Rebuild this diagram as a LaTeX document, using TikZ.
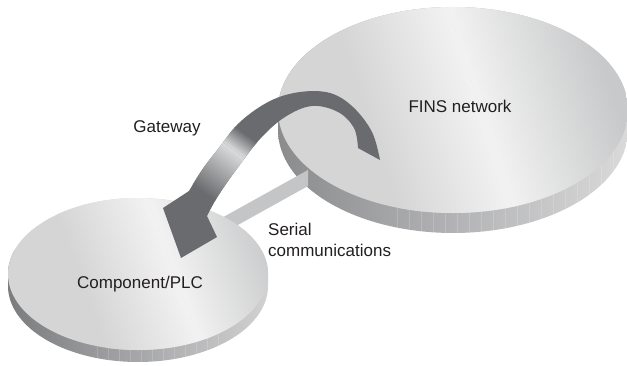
\documentclass[tikz,border=0pt]{standalone}
\usepackage{fontspec}
\setmainfont{Liberation Sans}
\definecolor{txt}{HTML}{231F20}
\definecolor{arrdark}{HTML}{6A6B6E}
\definecolor{arrlight}{HTML}{DADBDC}
\definecolor{topL}{HTML}{D5D5D6}
\definecolor{topM}{HTML}{F2F2F2}
\definecolor{topR}{HTML}{C8C9CA}
\definecolor{bigrimL}{HTML}{8A8B8D}
\definecolor{bigrimR}{HTML}{DADADB}
\definecolor{smrimL}{HTML}{7A7B7D}
\definecolor{smrimR}{HTML}{D2D2D3}
\definecolor{barcol}{HTML}{C4C5C7}
\begin{document}
\begin{tikzpicture}[x=1pt,y=-1pt,
  lbl/.style={font=\fontsize{17}{21}\selectfont, text=txt, inner sep=0pt},
  stripe/.style={white, opacity=0.17, line width=0.7pt}]
\useasboundingbox (0,0) rectangle (627,365);
\fill[white] (0,0) rectangle (627,365);

% ---------- big disk (FINS network): rim
\begin{scope}
  \clip plot[domain=0:180, samples=90] ({453+175*cos(\x)}, {130+103*sin(\x)})
     -- plot[domain=180:360, samples=90] ({453+175*cos(\x)}, {110+103*sin(\x)}) -- cycle;
  \shade[left color=bigrimL, right color=bigrimR] (275,0) rectangle (630,240);
  \foreach \xx in {397,409,...,620}
    \draw[stripe] (\xx,120) -- (\xx,240);
\end{scope}
% ---------- big disk: top surface
\begin{scope}
  \clip (453,110) ellipse [x radius=175, y radius=103];
  \fill[topL] (270,0) rectangle (630,215);
  \begin{scope}[transform canvas={rotate around={18:(481,110)}}]
    \shade[left color=topL, right color=topM] (371,-120) rectangle (481,340);
    \shade[left color=topM, right color=topR] (481,-120) rectangle (611,340);
    \fill[topR] (611,-120) rectangle (820,340);
  \end{scope}
\end{scope}

% ---------- serial communications bar
\fill[barcol] (308,170) -- (308,186) -- (200,246) -- (200,230) -- cycle;

% ---------- small disk (Component/PLC): rim
\begin{scope}
  \clip plot[domain=0:180, samples=90] ({138+130*cos(\x)}, {286+76*sin(\x)})
     -- plot[domain=180:360, samples=90] ({138+130*cos(\x)}, {274+76*sin(\x)}) -- cycle;
  \shade[left color=smrimL, right color=smrimR] (5,250) rectangle (270,365);
  \foreach \xx in {97,108,...,225}
    \draw[stripe] (\xx,290) -- (\xx,365);
\end{scope}
% ---------- small disk: top surface
\begin{scope}
  \clip (138,274) ellipse [x radius=130, y radius=76];
  \fill[topL] (0,190) rectangle (280,360);
  \begin{scope}[transform canvas={rotate around={20:(175,274)}}]
    \shade[left color=topL, right color=topM] (85,100) rectangle (175,450);
    \shade[left color=topM, right color=topR] (175,100) rectangle (275,450);
    \fill[topR] (275,100) rectangle (420,450);
  \end{scope}
\end{scope}

% ---------- gateway arrow
\begin{scope}
  \clip (163,208)
     -- plot[smooth, tension=0.6] coordinates {(189,191) (202,170) (218,149) (240,122) (270,101) (300,92) (330,93) (353,107) (372,132) (380,160)}
     -- plot[smooth, tension=0.6] coordinates {(358,148) (354,128) (338,112) (312,106) (285,117) (260,139) (236,170) (218,196) (207,216)}
     -- (217,237) -- (181,258) -- cycle;
  \fill[arrdark] (140,60) rectangle (400,280);
  \begin{scope}[transform canvas={rotate around={54:(228,146)}}]
    \shade[left color=arrdark, right color=arrlight] (176,60) rectangle (228,232);
    \shade[left color=arrlight, right color=arrdark] (228,60) rectangle (248,232);
  \end{scope}
\end{scope}

% ---------- labels
\node[lbl, anchor=base] (fins) at (460,112) {FINS network};
\node[lbl, anchor=base] (gw) at (167,132.5) {Gateway};
\node[lbl, anchor=base west] (serial1) at (268,235) {Serial};
\node[lbl, anchor=base west] (serial2) at (268,256.5) {communications};
\node[lbl, anchor=base] (plc) at (140,288) {Component/PLC};
\end{tikzpicture}
\end{document}
